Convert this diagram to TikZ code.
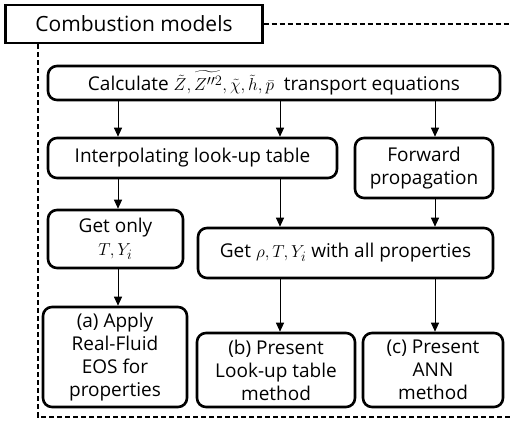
\documentclass[tikz,border=0pt]{standalone}
\usepackage{fontspec}
\setmainfont{Open Sans}
\usepackage{amsmath}
\usetikzlibrary{arrows.meta}
\tikzset{
  stepbox/.style={draw, line width=2.6pt, rounded corners=9pt, align=center, inner sep=0pt, font=\fontsize{19}{23}\selectfont},
  flow/.style={-{Triangle[length=9pt,width=8pt]}, line width=1pt},
  frame/.style={line width=2pt, dash pattern=on 5pt off 3pt},
}

\begin{document}
\begin{tikzpicture}[x=1pt,y=1pt,yscale=-1,xscale=1]
\useasboundingbox (0,0) rectangle (511,421);

%Title box
\node[draw, line width=2.4pt, minimum width=257pt, minimum height=38pt, inner sep=0pt, font=\fontsize{21}{24}\selectfont] (title) at (134,24) {Combustion models};

%Row 1
\node[stepbox, minimum width=452pt, minimum height=34pt] (calc) at (274,83) {Calculate $\tilde{Z},\widetilde{Z''^2},\tilde{\chi},\tilde{h},\bar{p}$\ \ transport equations};

%Row 2
\node[stepbox, minimum width=289pt, minimum height=40pt] (interp) at (192.5,158) {Interpolating look-up table};
\node[stepbox, minimum width=138pt, minimum height=60pt] (fwd) at (424,168) {Forward\\propagation};

%Row 3
\node[stepbox, minimum width=135pt, minimum height=58pt] (getonly) at (115.5,239) {Get only\\$T,Y_i$};
\node[stepbox, minimum width=295pt, minimum height=50pt] (getrho) at (345.5,253) {Get $\rho,T,Y_i$ with all properties};

%Row 4
\node[stepbox, minimum width=144pt, minimum height=100pt] (boxa) at (115,357) {(a) Apply\\Real-Fluid\\EOS for\\properties};
\node[stepbox, minimum width=158pt, minimum height=74pt] (boxb) at (276,370) {(b) Present\\Look-up table\\method};
\node[stepbox, minimum width=140pt, minimum height=74pt] (boxc) at (433,370) {(c) Present\\ANN\\method};

%Arrow columns
\coordinate (colA) at (118,0);
\coordinate (colB) at (280,0);
\coordinate (colC) at (435,0);

%Arrows
\draw[flow] (calc.south -| colA) -- (interp.north -| colA);
\draw[flow] (calc.south -| colB) -- (interp.north -| colB);
\draw[flow] (calc.south -| colC) -- (fwd.north -| colC);
\draw[flow] (interp.south -| colA) -- (getonly.north -| colA);
\draw[flow] (interp.south -| colB) -- (getrho.north -| colB);
\draw[flow] (fwd.south -| colC) -- (getrho.north -| colC);
\draw[flow] (getonly.south -| colA) -- (boxa.north -| colA);
\draw[flow] (getrho.south -| colB) -- (boxb.north -| colB);
\draw[flow] (getrho.south -| colC) -- (boxc.north -| colC);

%Dashed frame
\coordinate (frameL) at (38,0);
\coordinate (frameBR) at (511,417);
\draw[frame] (title.east) -- (title.east -| frameBR);
\draw[frame] (title.south -| frameL) -- (frameL |- frameBR) -- (frameBR);
\end{tikzpicture}
\end{document}
